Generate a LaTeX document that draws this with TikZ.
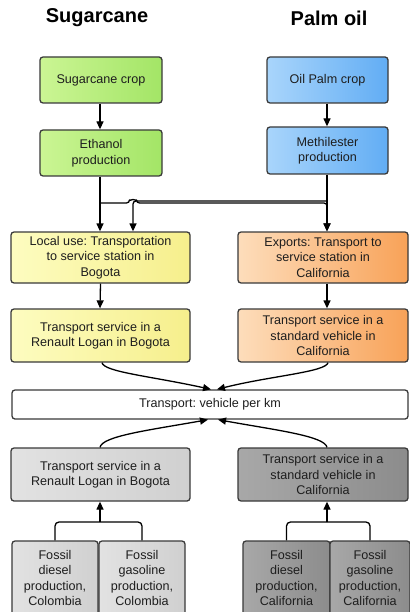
\documentclass[tikz,border=0pt]{standalone}
\usepackage{fontspec}
\setmainfont{Liberation Sans}
\usetikzlibrary{arrows.meta,calc}
\frenchspacing
\definecolor{grL}{HTML}{CBF594}
\definecolor{grR}{HTML}{A3E566}
\definecolor{blL}{HTML}{A9D5FB}
\definecolor{blR}{HTML}{62ADF4}
\definecolor{yeL}{HTML}{FDFCC0}
\definecolor{yeR}{HTML}{F6EF8C}
\definecolor{orL}{HTML}{FDDDBB}
\definecolor{orR}{HTML}{F8A258}
\definecolor{gyL}{HTML}{E2E2E2}
\definecolor{gyR}{HTML}{D0D0D0}
\definecolor{dgL}{HTML}{A8A8A8}
\definecolor{dgR}{HTML}{8C8C8C}
\definecolor{edge}{HTML}{3A3A3A}
\definecolor{ink}{HTML}{1E1E1E}
\tikzset{
  x=1pt, y=-1pt,
  box/.style={draw=edge, line width=1.3pt, rounded corners=3pt, align=center,
    inner sep=1pt, text=ink, font=\fontsize{12.6}{15.5}\selectfont},
  green/.style={box, left color=grL, right color=grR},
  blue/.style={box, left color=blL, right color=blR},
  yellow/.style={box, left color=yeL, right color=yeR},
  orange/.style={box, left color=orL, right color=orR},
  grey/.style={box, left color=gyL, right color=gyR},
  dgrey/.style={box, left color=dgL, right color=dgR},
  plain/.style={box, fill=white},
  conn/.style={draw=black, line width=1.3pt},
  arr/.style={conn, -{Triangle[length=8pt,width=7pt]}},
  title/.style={font=\bfseries\fontsize{20}{24}\selectfont, text=black}
}
\begin{document}
\begin{tikzpicture}
\useasboundingbox (0,0) rectangle (409,612);
\fill[white] (0,0) rectangle (409,612);
% titles
\node[title] (t1) at (97,18) {Sugarcane};
\node[title] (t2) at (329,18) {Palm oil};
% top row
\node[green, minimum width=122pt, minimum height=46pt] (scrop) at (101,80) {Sugarcane crop};
\node[green, minimum width=122pt, minimum height=46pt] (eth) at (101,153) {Ethanol\\production};
\node[blue, minimum width=121pt, minimum height=46pt] (pcrop) at (327.5,80) {Oil Palm crop};
\node[blue, minimum width=121pt, minimum height=47pt] (meth) at (327.5,150.5) {Methilester\\production};
% second rows
\node[yellow, minimum width=179pt, minimum height=51pt] (loc) at (100.5,257.5) {Local use: Transportation\\to service station in\\Bogota};
\node[orange, minimum width=170pt, minimum height=51pt] (exp) at (323,257.5) {Exports: Transport to\\service station in\\California};
\node[yellow, minimum width=179pt, minimum height=53pt] (rl) at (100.5,335.5) {Transport service in a\\Renault Logan in Bogota};
\node[orange, minimum width=170pt, minimum height=53pt] (sv) at (323,335.5) {Transport service in a\\standard vehicle in\\California};
% middle
\node[plain, minimum width=396pt, minimum height=29pt] (vkm) at (210,404.5) {Transport: vehicle per km};
% grey
\node[grey, minimum width=179pt, minimum height=53pt] (rlg) at (100.5,474.5) {Transport service in a\\Renault Logan in Bogota};
\node[dgrey, minimum width=170pt, minimum height=53pt] (svg) at (323,474.5) {Transport service in a\\standard vehicle in\\California};
% fossil
\node[grey, minimum width=86pt, minimum height=74pt] (fd1) at (55,578) {Fossil\\diesel\\production,\\Colombia};
\node[grey, minimum width=86pt, minimum height=74pt] (fg1) at (142,578) {Fossil\\gasoline\\production,\\Colombia};
\node[dgrey, minimum width=87pt, minimum height=74pt] (fd2) at (286.5,578) {Fossil\\diesel\\production,\\California};
\node[dgrey, minimum width=80pt, minimum height=74pt] (fg2) at (370,578) {Fossil\\gasoline\\production,\\California};
% top arrows
\draw[arr] (scrop.south -| 100,0) -- (eth.north -| 100,0);
\draw[arr] (pcrop.south -| 327,0) -- (meth.north -| 327,0);
\draw[arr] (eth.south -| 100,0) -- (loc.north -| 100,0);
\draw[arr] (meth.south -| 327,0) -- (exp.north -| 327,0);
% cross links
\coordinate (j1) at (100,203);
\coordinate (j2) at (327,201);
\draw[arr, rounded corners=3pt] (j2) -- (133,201) -- (loc.north -| 133,0);
\draw[arr, rounded corners=3pt] (j1) -- (129.5,203) arc[start angle=180, end angle=0, radius=3.5pt] -- (327,203) -- (exp.north -| 327,0);
\draw[arr] (loc.south) -- (rl.north -| 100,0);
\draw[arr] (exp.south -| 327,0) -- (sv.north -| 327,0);
% curves into vkm
\draw[arr] (rl.south -| 102,0) .. controls (104,372) and (150,376) .. (vkm.north -| 211,0);
\draw[arr] (sv.south -| 328,0) .. controls (326,372) and (270,376) .. (vkm.north -| 217,0);
\draw[arr] (rlg.north -| 100,0) .. controls (102,436) and (150,430) .. (vkm.south -| 208,0);
\draw[arr] (svg.north -| 327,0) .. controls (325,436) and (275,430) .. (vkm.south -| 218,0);
% fossil links
\coordinate (m1) at (100,522);
\coordinate (m2) at (327,522);
\draw[conn, rounded corners=4pt] (fd1.north) |- (m1) -| (fg1.north);
\draw[arr] (m1) -- (rlg.south -| m1);
\draw[conn, rounded corners=4pt] (fd2.north) |- (m2) -| (fg2.north);
\draw[arr] (m2) -- (svg.south -| m2);
\end{tikzpicture}
\end{document}
